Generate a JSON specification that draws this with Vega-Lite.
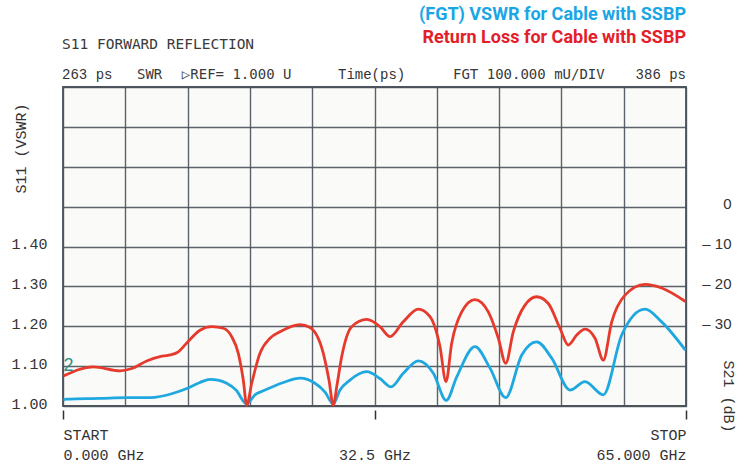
{
  "$schema": "https://vega.github.io/schema/vega-lite/v6.json",
  "width": 623,
  "height": 319,
  "autosize": "none",
  "padding": {"left": 63, "top": 87, "right": 60, "bottom": 60},
  "background": "white",
  "config": {
    "view": {"stroke": "#4f565e", "strokeWidth": 1.8, "fill": "#fafaf9"},
    "axis": {"labelColor": "#333333", "titleColor": "#333333", "titleFontWeight": "normal"}
  },
  "datasets": {
    "vswr": [
      {"ghz": 0.05, "vswr": 1.016}, {"ghz": 0.39, "vswr": 1.017}, {"ghz": 3.86, "vswr": 1.019},
      {"ghz": 6.65, "vswr": 1.021}, {"ghz": 9.08, "vswr": 1.021}, {"ghz": 11.51, "vswr": 1.032},
      {"ghz": 12.91, "vswr": 1.044}, {"ghz": 14.29, "vswr": 1.059}, {"ghz": 15.34, "vswr": 1.067},
      {"ghz": 16.17, "vswr": 1.065}, {"ghz": 17.08, "vswr": 1.057}, {"ghz": 18.05, "vswr": 1.040},
      {"ghz": 19.17, "vswr": 1.005}, {"ghz": 20.03, "vswr": 1.028}, {"ghz": 20.90, "vswr": 1.038},
      {"ghz": 22.99, "vswr": 1.059}, {"ghz": 24.73, "vswr": 1.070}, {"ghz": 26.29, "vswr": 1.057},
      {"ghz": 27.34, "vswr": 1.035}, {"ghz": 28.20, "vswr": 1.005}, {"ghz": 28.90, "vswr": 1.040},
      {"ghz": 29.94, "vswr": 1.065}, {"ghz": 31.69, "vswr": 1.086}, {"ghz": 33.07, "vswr": 1.069},
      {"ghz": 34.22, "vswr": 1.048}, {"ghz": 35.50, "vswr": 1.082}, {"ghz": 37.07, "vswr": 1.113},
      {"ghz": 38.64, "vswr": 1.082}, {"ghz": 39.99, "vswr": 1.014}, {"ghz": 41.08, "vswr": 1.073},
      {"ghz": 42.98, "vswr": 1.149}, {"ghz": 44.55, "vswr": 1.095}, {"ghz": 46.19, "vswr": 1.021},
      {"ghz": 47.86, "vswr": 1.128}, {"ghz": 49.42, "vswr": 1.161}, {"ghz": 50.99, "vswr": 1.120},
      {"ghz": 52.90, "vswr": 1.040}, {"ghz": 54.46, "vswr": 1.061}, {"ghz": 56.37, "vswr": 1.028},
      {"ghz": 58.29, "vswr": 1.178}, {"ghz": 60.72, "vswr": 1.243}, {"ghz": 62.46, "vswr": 1.211},
      {"ghz": 64.94, "vswr": 1.140}
    ],
    "rl": [
      {"ghz": 0.03, "db": -42.5}, {"ghz": 3.16, "db": -40.2}, {"ghz": 5.95, "db": -41.2},
      {"ghz": 7.17, "db": -40.6}, {"ghz": 8.73, "db": -38.7}, {"ghz": 10.12, "db": -37.6},
      {"ghz": 11.17, "db": -37.2}, {"ghz": 12.03, "db": -36.4}, {"ghz": 12.91, "db": -34.2},
      {"ghz": 14.29, "db": -31.0}, {"ghz": 15.51, "db": -30.1}, {"ghz": 16.73, "db": -30.5},
      {"ghz": 17.60, "db": -32.6}, {"ghz": 18.29, "db": -36.8}, {"ghz": 18.81, "db": -43.5},
      {"ghz": 19.17, "db": -49.8}, {"ghz": 19.69, "db": -44.3}, {"ghz": 20.55, "db": -36.8},
      {"ghz": 21.60, "db": -33.0}, {"ghz": 22.64, "db": -31.4}, {"ghz": 24.73, "db": -29.6},
      {"ghz": 25.77, "db": -30.3}, {"ghz": 27.16, "db": -36.8}, {"ghz": 27.75, "db": -43.5},
      {"ghz": 28.20, "db": -49.8}, {"ghz": 28.59, "db": -44.7}, {"ghz": 29.08, "db": -37.6},
      {"ghz": 30.12, "db": -30.1}, {"ghz": 31.69, "db": -28.3}, {"ghz": 33.07, "db": -30.1},
      {"ghz": 34.12, "db": -32.6}, {"ghz": 35.50, "db": -28.9}, {"ghz": 37.07, "db": -25.7},
      {"ghz": 38.29, "db": -27.6}, {"ghz": 39.33, "db": -35.1}, {"ghz": 39.96, "db": -43.9},
      {"ghz": 40.55, "db": -34.3}, {"ghz": 41.60, "db": -26.4}, {"ghz": 42.98, "db": -23.3},
      {"ghz": 44.37, "db": -26.4}, {"ghz": 45.42, "db": -33.0}, {"ghz": 46.19, "db": -39.3},
      {"ghz": 46.98, "db": -31.4}, {"ghz": 48.20, "db": -24.7}, {"ghz": 49.42, "db": -22.6},
      {"ghz": 50.63, "db": -24.3}, {"ghz": 51.85, "db": -30.5}, {"ghz": 52.72, "db": -34.7},
      {"ghz": 53.60, "db": -32.2}, {"ghz": 54.46, "db": -30.7}, {"ghz": 55.51, "db": -33.0},
      {"ghz": 56.37, "db": -38.5}, {"ghz": 57.25, "db": -28.9}, {"ghz": 58.64, "db": -22.2},
      {"ghz": 60.72, "db": -19.5}, {"ghz": 62.46, "db": -20.4}, {"ghz": 64.94, "db": -23.8}
    ],
    "legend": [
      {"label": "(FGT) VSWR for Cable with SSBP", "series": "VSWR", "ghz": 65, "vswr": 1.980},
      {"label": "Return Loss for Cable with SSBP", "series": "Return Loss", "ghz": 65, "vswr": 1.922}
    ],
    "heading": [
      {"label": "S11 FORWARD REFLECTION", "ghz": -0.1, "vswr": 1.905}
    ],
    "status": [
      {"label": "SWR", "ghz": 7.72, "vswr": 1.830},
      {"label": "▷REF= 1.000 U", "ghz": 12.4, "vswr": 1.830},
      {"label": "FGT 100.000 mU/DIV", "ghz": 40.69, "vswr": 1.830}
    ],
    "timesLeft": [
      {"label": "263 ps", "ghz": -0.1, "vswr": 1.830},
      {"label": "Time(ps)", "ghz": 28.69, "vswr": 1.830}
    ],
    "timesRight": [
      {"label": "386 ps", "ghz": 65.0, "vswr": 1.830}
    ],
    "marker": [
      {"label": "2", "ghz": 0.05, "vswr": 1.100}
    ]
  },
  "layer": [
    {
      "data": {"name": "vswr"},
      "mark": {"type": "line", "color": "#1fa8e0", "strokeWidth": 2.8, "interpolate": "monotone"},
      "encoding": {
        "x": {
          "field": "ghz", "type": "quantitative",
          "scale": {"domain": [0, 65], "nice": false, "zero": false},
          "axis": {
            "values": [0, 6.5, 13, 19.5, 26, 32.5, 39, 45.5, 52, 58.5, 65],
            "grid": true, "gridColor": "#4a525b", "gridWidth": 1.4, "gridOpacity": 0.9,
            "domain": false,
            "ticks": true, "tickSize": 13, "tickColor": "#333333", "tickWidth": 1.5,
            "tickDash": [0, 4, 9, 20],
            "tickOpacity": {"condition": {"test": "datum.value == 0 || datum.value == 32.5 || datum.value == 65", "value": 1}, "value": 0},
            "labelExpr": "datum.value == 0 ? ['START', '0.000 GHz'] : datum.value == 65 ? ['STOP', '65.000 GHz'] : datum.value == 32.5 ? ['', '32.5 GHz'] : ''",
            "labelAlign": {"condition": [{"test": "datum.value == 0", "value": "left"}, {"test": "datum.value == 65", "value": "right"}], "value": "center"},
            "labelBaseline": "top",
            "labelFont": "Liberation Mono", "labelFontSize": 15, "labelLineHeight": 20,
            "labelPadding": 8, "labelOverlap": false, "labelBound": false, "labelFlush": false,
            "title": null
          }
        },
        "y": {
          "field": "vswr", "type": "quantitative",
          "scale": {"domain": [1.0, 1.8], "nice": false, "zero": false},
          "axis": {
            "orient": "left",
            "values": [1.0, 1.1, 1.2, 1.3, 1.4, 1.5, 1.6, 1.7, 1.8],
            "grid": true, "gridColor": "#4a525b", "gridWidth": 1.4, "gridOpacity": 0.9,
            "domain": false, "ticks": false,
            "labelExpr": "datum.value <= 1.401 ? format(datum.value, '.2f') : ''",
            "labelFont": "Liberation Mono", "labelFontSize": 15,
            "labelPadding": 16, "labelOffset": -3,
            "title": "S11 (VSWR)",
            "titleFont": "Liberation Mono", "titleFontSize": 15,
            "titleAngle": 270, "titleX": -43, "titleY": 61,
            "titleAlign": "center", "titleBaseline": "middle"
          }
        }
      }
    },
    {
      "data": {"name": "rl"},
      "mark": {"type": "line", "color": "#e63a2c", "strokeWidth": 2.8, "interpolate": "monotone"},
      "encoding": {
        "x": {"field": "ghz", "type": "quantitative"},
        "y": {
          "field": "db", "type": "quantitative",
          "scale": {"domain": [-50, 30], "nice": false, "zero": false},
          "axis": {
            "orient": "right",
            "values": [0, -10, -20, -30],
            "grid": false, "domain": false, "ticks": false,
            "labelExpr": "datum.value == 0 ? '0' : '– ' + abs(datum.value)",
            "labelFont": "Liberation Sans", "labelFontSize": 15,
            "labelAlign": "right", "labelPadding": 45, "labelOffset": -3,
            "title": "S21 (dB)",
            "titleFont": "Liberation Mono", "titleFontSize": 15,
            "titleAngle": 90, "titleX": 42, "titleY": 309,
            "titleAlign": "center", "titleBaseline": "middle"
          }
        }
      }
    },
    {
      "data": {"name": "legend"},
      "mark": {"type": "text", "align": "right", "baseline": "middle", "font": "Roboto", "fontSize": 18, "fontWeight": "bold"},
      "encoding": {
        "x": {"field": "ghz", "type": "quantitative"},
        "y": {"field": "vswr", "type": "quantitative", "axis": null, "scale": {"domain": [1.0, 1.8], "nice": false, "zero": false}},
        "text": {"field": "label"},
        "color": {"field": "series", "type": "nominal", "scale": {"domain": ["VSWR", "Return Loss"], "range": ["#1aa6e6", "#e3202a"]}, "legend": null}
      }
    },
    {
      "data": {"name": "heading"},
      "mark": {"type": "text", "align": "left", "baseline": "middle", "font": "DejaVu Sans Mono", "fontSize": 14.5, "color": "#3a3a3a"},
      "encoding": {
        "x": {"field": "ghz", "type": "quantitative"},
        "y": {"field": "vswr", "type": "quantitative", "axis": null, "scale": {"domain": [1.0, 1.8], "nice": false, "zero": false}},
        "text": {"field": "label"}
      }
    },
    {
      "data": {"name": "status"},
      "mark": {"type": "text", "align": "left", "baseline": "middle", "font": "DejaVu Sans Mono", "fontSize": 14, "color": "#3a3a3a"},
      "encoding": {
        "x": {"field": "ghz", "type": "quantitative"},
        "y": {"field": "vswr", "type": "quantitative", "axis": null, "scale": {"domain": [1.0, 1.8], "nice": false, "zero": false}},
        "text": {"field": "label"}
      }
    },
    {
      "data": {"name": "timesLeft"},
      "mark": {"type": "text", "align": "left", "baseline": "middle", "font": "Liberation Mono", "fontSize": 14, "color": "#333333"},
      "encoding": {
        "x": {"field": "ghz", "type": "quantitative"},
        "y": {"field": "vswr", "type": "quantitative", "axis": null, "scale": {"domain": [1.0, 1.8], "nice": false, "zero": false}},
        "text": {"field": "label"}
      }
    },
    {
      "data": {"name": "timesRight"},
      "mark": {"type": "text", "align": "right", "baseline": "middle", "font": "Liberation Mono", "fontSize": 14, "color": "#333333"},
      "encoding": {
        "x": {"field": "ghz", "type": "quantitative"},
        "y": {"field": "vswr", "type": "quantitative", "axis": null, "scale": {"domain": [1.0, 1.8], "nice": false, "zero": false}},
        "text": {"field": "label"}
      }
    },
    {
      "data": {"name": "marker"},
      "mark": {"type": "text", "align": "left", "baseline": "middle", "font": "Liberation Sans", "fontSize": 18, "color": "#2f8f7f"},
      "encoding": {
        "x": {"field": "ghz", "type": "quantitative"},
        "y": {"field": "vswr", "type": "quantitative", "axis": null, "scale": {"domain": [1.0, 1.8], "nice": false, "zero": false}},
        "text": {"field": "label"}
      }
    }
  ],
  "resolve": {"scale": {"y": "independent"}, "axis": {"y": "independent"}}
}
